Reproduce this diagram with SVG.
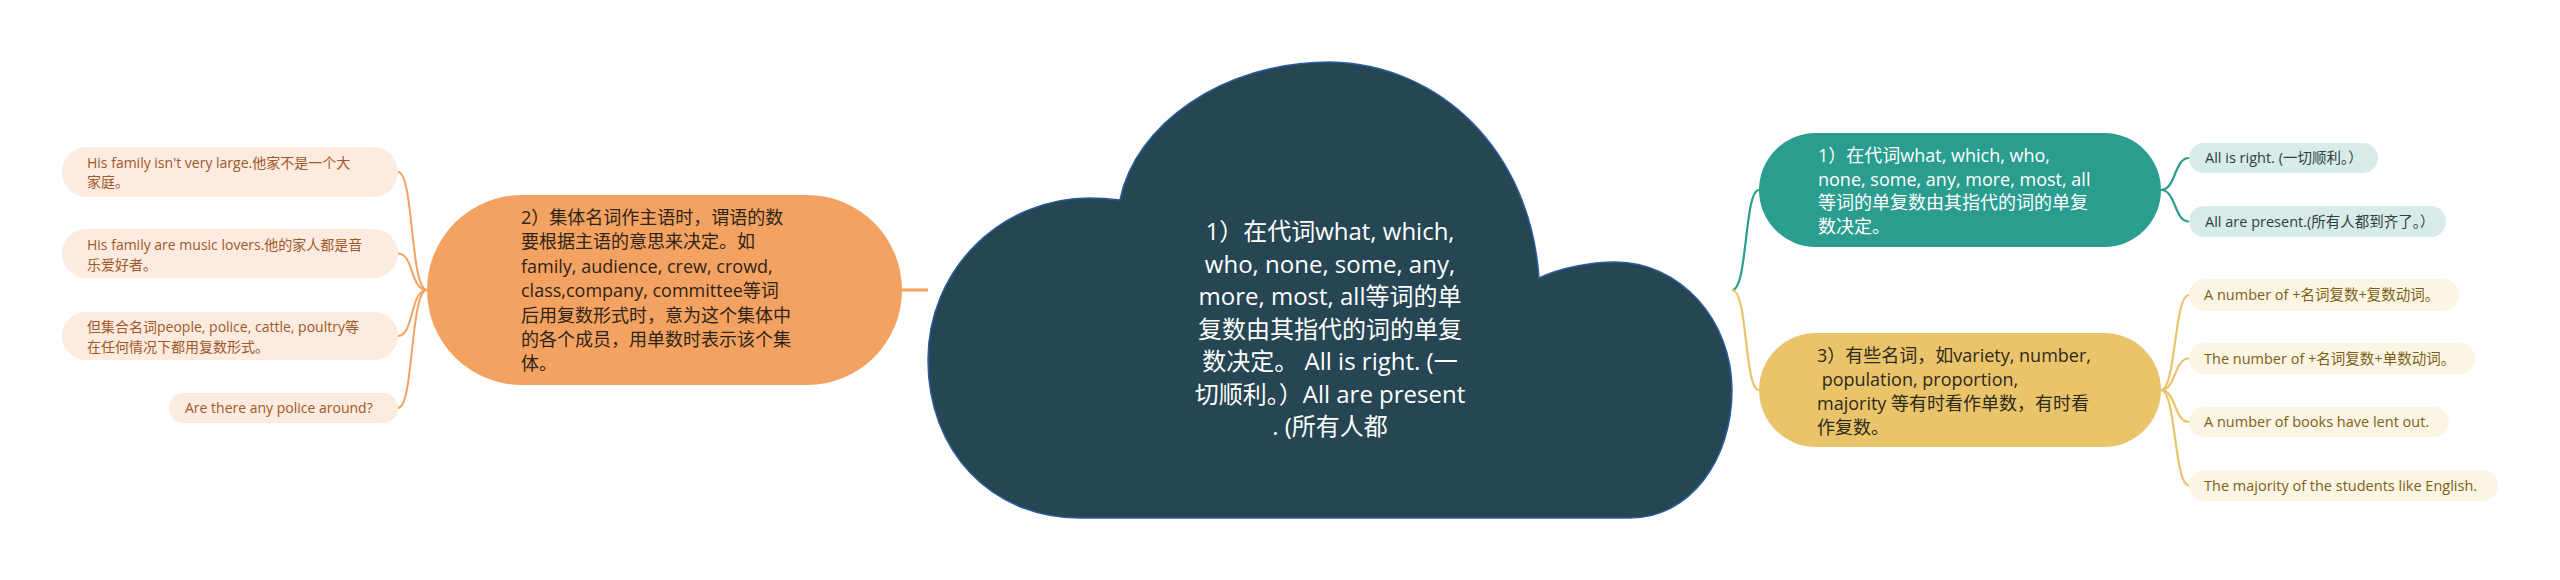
<svg xmlns="http://www.w3.org/2000/svg" width="2560" height="580" viewBox="0 0 2560 580">
<style>
text{font-family:"Open Sans","Noto Sans CJK SC",sans-serif;}
.c-or{fill:none;stroke:#f4a261;stroke-width:2;}
.c-te{fill:none;stroke:#2a9d8f;stroke-width:2.2;}
.c-ye{fill:none;stroke:#e9c46a;stroke-width:2.2;}
.leaf-or{fill:#fdebdf;}
.leaf-te{fill:#d7ece9;}
.leaf-ye{fill:#fcf5e4;}
.t-or{font-size:14px;fill:#a0582a;}
.t-te{font-size:14.5px;fill:#2f3f3d;}
.t-ye{font-size:14.5px;fill:#7d6216;}
.t-main{font-size:18px;}
</style>
<rect width="2560" height="580" fill="#ffffff"/>
<g id="connectors">
  <line x1="902" y1="290" x2="928" y2="290" stroke="#f4a261" stroke-width="3"/>
  <path class="c-or" d="M427 290 C410 290 414 172 398 172"/>
  <path class="c-or" d="M427 290 C410 290 414 253.5 398 253.5"/>
  <path class="c-or" d="M427 290 C410 290 414 336 398 336"/>
  <path class="c-or" d="M427 290 C410 290 414 408 398 408"/>
  <path class="c-te" d="M1732 290 C1748 290 1744 190 1759 190"/>
  <path class="c-ye" d="M1732 290 C1748 290 1744 390 1759 390"/>
  <path class="c-te" d="M2161 190 C2176 190 2174 158 2189 158"/>
  <path class="c-te" d="M2161 190 C2176 190 2174 221.5 2189 221.5"/>
  <path class="c-ye" d="M2161 390 C2176 390 2174 295 2189 295"/>
  <path class="c-ye" d="M2161 390 C2176 390 2174 358.5 2189 358.5"/>
  <path class="c-ye" d="M2161 390 C2176 390 2174 422 2189 422"/>
  <path class="c-ye" d="M2161 390 C2176 390 2174 485.5 2189 485.5"/>
</g>
<g id="root">
  <path d="M1080 518 C990 518 928 450 928 360 C928 270 1000 198 1090 198 C1100 198 1112 199 1120 200 C1135 125 1222 62 1330 62 C1440 64 1530 150 1539 278 C1560 268 1590 262 1615 262 C1680 262 1732 320 1732 390 C1732 460 1690 518 1630 518 Z" fill="#264653" stroke="#2c5d9e" stroke-width="1.5"/>
  <g font-size="24" fill="#ffffff" text-anchor="middle">
    <text x="1330" y="240">1）在代词what, which,</text>
    <text x="1330" y="272.5">who, none, some, any,</text>
    <text x="1330" y="305">more, most, all等词的单</text>
    <text x="1330" y="337.5">复数由其指代的词的单复</text>
    <text x="1330" y="370">数决定。 All is right. (一</text>
    <text x="1330" y="402.5">切顺利。）All are present</text>
    <text x="1330" y="435">. (所有人都</text>
  </g>
</g>
<g id="node-2">
  <rect x="427" y="195" width="475" height="190" rx="95" fill="#f4a261"/>
  <g class="t-main" fill="#2e2418">
    <text x="521" y="224">2）集体名词作主语时，谓语的数</text>
    <text x="521" y="248.4">要根据主语的意思来决定。如</text>
    <text x="521" y="272.8">family, audience, crew, crowd,</text>
    <text x="521" y="297.2">class,company, committee等词</text>
    <text x="521" y="321.6">后用复数形式时，意为这个集体中</text>
    <text x="521" y="346">的各个成员，用单数时表示该个集</text>
    <text x="521" y="370.4">体。</text>
  </g>
</g>
<g id="leaf-2-1">
  <rect class="leaf-or" x="62" y="147" width="336" height="50" rx="25"/>
  <text class="t-or" x="87" y="168">His family isn't very large.他家不是一个大</text>
  <text class="t-or" x="87" y="187">家庭。</text>
</g>
<g id="leaf-2-2">
  <rect class="leaf-or" x="62" y="229" width="336" height="49" rx="24.5"/>
  <text class="t-or" x="87" y="250">His family are music lovers.他的家人都是音</text>
  <text class="t-or" x="87" y="270">乐爱好者。</text>
</g>
<g id="leaf-2-3">
  <rect class="leaf-or" x="62" y="312" width="336" height="48" rx="24"/>
  <text class="t-or" x="87" y="332">但集合名词people, police, cattle, poultry等</text>
  <text class="t-or" x="87" y="352">在任何情况下都用复数形式。</text>
</g>
<g id="leaf-2-4">
  <rect class="leaf-or" x="169" y="393" width="229" height="30" rx="15"/>
  <text class="t-or" x="185" y="413">Are there any police around?</text>
</g>
<g id="node-1">
  <rect x="1759" y="133" width="402" height="114" rx="57" fill="#2a9d8f"/>
  <g class="t-main" fill="#ffffff">
    <text x="1818" y="162">1）在代词what, which, who,</text>
    <text x="1818" y="185.5">none, some, any, more, most, all</text>
    <text x="1818" y="209">等词的单复数由其指代的词的单复</text>
    <text x="1818" y="232.5">数决定。</text>
  </g>
</g>
<g id="leaf-1-1">
  <rect class="leaf-te" x="2189" y="143" width="189" height="30" rx="15"/>
  <text class="t-te" x="2205" y="163">All is right. (一切顺利。）</text>
</g>
<g id="leaf-1-2">
  <rect class="leaf-te" x="2189" y="206" width="257" height="31" rx="15.5"/>
  <text class="t-te" x="2205" y="227">All are present.(所有人都到齐了。）</text>
</g>
<g id="node-3">
  <rect x="1759" y="333" width="402" height="114" rx="57" fill="#e9c46a"/>
  <g class="t-main" fill="#2e2a1c">
    <text x="1817" y="362">3）有些名词，如variety, number,</text>
    <text x="1817" y="386" xml:space="preserve"> population, proportion,</text>
    <text x="1817" y="410">majority 等有时看作单数，有时看</text>
    <text x="1817" y="434">作复数。</text>
  </g>
</g>
<g id="leaf-3-1">
  <rect class="leaf-ye" x="2189" y="279" width="270" height="32" rx="16"/>
  <text class="t-ye" x="2204" y="300">A number of +名词复数+复数动词。</text>
</g>
<g id="leaf-3-2">
  <rect class="leaf-ye" x="2189" y="343" width="286" height="31" rx="15.5"/>
  <text class="t-ye" x="2204" y="364">The number of +名词复数+单数动词。</text>
</g>
<g id="leaf-3-3">
  <rect class="leaf-ye" x="2189" y="407" width="260" height="30" rx="15"/>
  <text class="t-ye" x="2204" y="427">A number of books have lent out.</text>
</g>
<g id="leaf-3-4">
  <rect class="leaf-ye" x="2189" y="470" width="309" height="31" rx="15.5"/>
  <text class="t-ye" x="2204" y="491">The majority of the students like English.</text>
</g>
</svg>
